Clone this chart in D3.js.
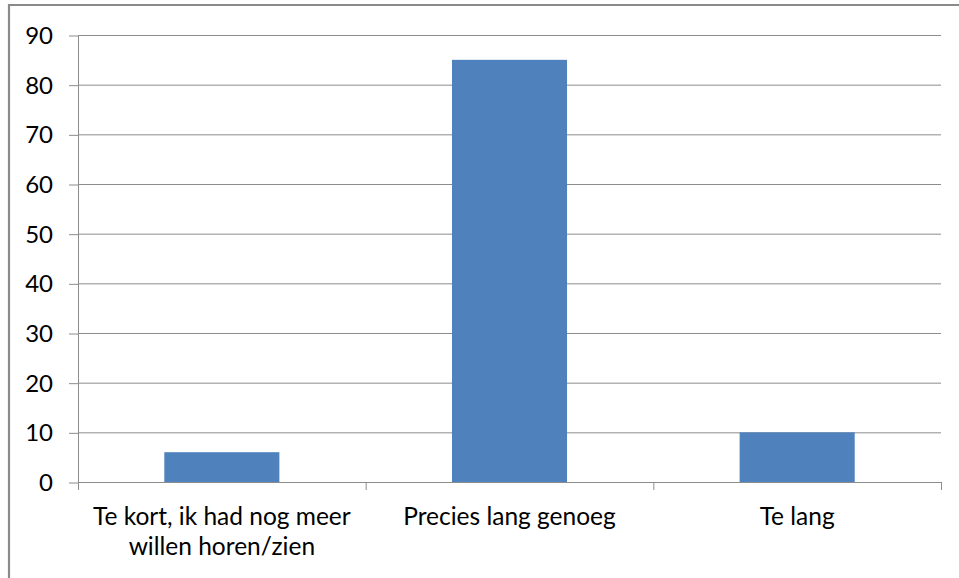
<!DOCTYPE html>
<html>
<head>
<meta charset="utf-8">
<script src="https://cdn.jsdelivr.net/npm/d3@7"></script>
<style>
  html, body { margin: 0; padding: 0; background: #fff; }
  svg { display: block; }
  text { font-family: Lato, "Open Sans", sans-serif; fill: #000; }
</style>
</head>
<body>
<svg id="chart" width="959" height="578"></svg>
<script>
// Survey answers: how long was it?
const categories = [
  ["Te kort, ik had nog meer", "willen horen/zien"],
  ["Precies lang genoeg"],
  ["Te lang"]
];
const values = [6, 85, 10];
const yTicks = [0, 10, 20, 30, 40, 50, 60, 70, 80, 90];

const W = 959, H = 578;
const margin = { left: 78, right: 18, top: 35, bottom: 96 };
const plotW = W - margin.left - margin.right;
const plotH = H - margin.top - margin.bottom;

const svg = d3.select("#chart");

// Chart frame (only top and left edges are visible)
svg.append("path")
  .attr("d", `M9,${H} L9,5 L${W},5`)
  .attr("fill", "none")
  .attr("stroke", "#8a8a8a")
  .attr("stroke-width", 2.2);

const idx = categories.map((_, i) => i);
const x = d3.scaleBand().domain(idx).range([0, plotW]).padding(0);
const y = d3.scaleLinear().domain([0, 90]).range([plotH, 0]);

const g = svg.append("g").attr("transform", `translate(${margin.left},${margin.top})`);

// Horizontal gridlines
g.append("g").selectAll("line")
  .data(yTicks.filter(t => t > 0))
  .join("line")
  .attr("x1", 0).attr("x2", plotW)
  .attr("y1", d => y(d) + 0.5).attr("y2", d => y(d) + 0.5)
  .attr("stroke", "#8c8c8c").attr("stroke-width", 1);

// Bars: width is 40% of the category slot
const barW = x.bandwidth() * 0.4;
g.append("g").selectAll("rect")
  .data(values)
  .join("rect")
  .attr("x", (d, i) => x(i) + (x.bandwidth() - barW) / 2)
  .attr("width", barW)
  .attr("y", d => y(d))
  .attr("height", d => y(0) - y(d))
  .attr("fill", "#4f81bd");

// Y axis
const yAxis = d3.axisLeft(y).tickValues(yTicks).tickSize(9).tickPadding(16);
const ya = g.append("g").call(yAxis);
ya.select(".domain").attr("stroke", "#8c8c8c").attr("d", `M0.5,${plotH} V0`);
ya.selectAll(".tick line").attr("stroke", "#8c8c8c").attr("transform", "translate(0,0.5)");
ya.selectAll(".tick text")
  .attr("font-family", "Lato, sans-serif")
  .attr("font-size", 24)
  .attr("fill", "#000")
  .attr("dy", "0.35em");

// X axis line and category boundary ticks
const xa = g.append("g").attr("transform", `translate(0,${plotH})`);
xa.append("line")
  .attr("x1", 0).attr("x2", plotW)
  .attr("y1", 0.5).attr("y2", 0.5)
  .attr("stroke", "#8c8c8c");
xa.selectAll("line.bound")
  .data(d3.range(categories.length + 1))
  .join("line")
  .attr("class", "bound")
  .attr("x1", d => (d < categories.length ? x(d) : plotW) + 0.5)
  .attr("x2", d => (d < categories.length ? x(d) : plotW) + 0.5)
  .attr("y1", 0).attr("y2", 8)
  .attr("stroke", "#8c8c8c");

// Category labels
const labels = xa.selectAll("text.cat")
  .data(categories)
  .join("text")
  .attr("class", "cat")
  .attr("text-anchor", "middle")
  .attr("font-size", 24.5)
  .attr("transform", (d, i) => `translate(${x(i) + x.bandwidth() / 2},43)`);
labels.selectAll("tspan")
  .data(d => d)
  .join("tspan")
  .attr("x", 0)
  .attr("dy", (d, i) => i === 0 ? 0 : 30)
  .text(d => d);
</script>
</body>
</html>
